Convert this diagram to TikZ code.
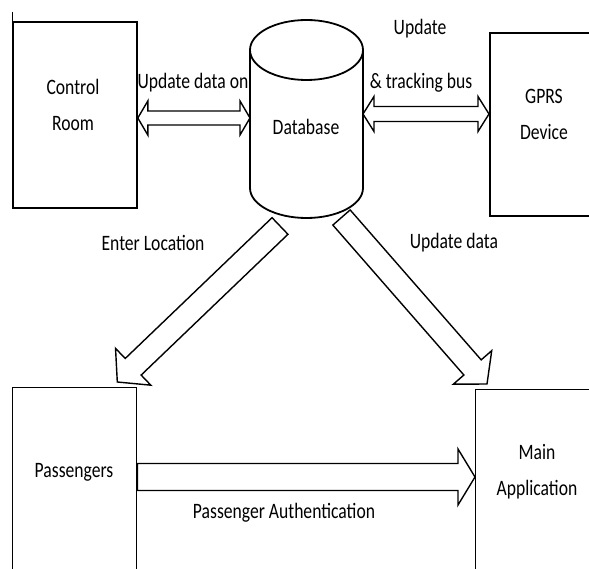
\documentclass[tikz,border=0pt]{standalone}
\usepackage{fontspec}
\setmainfont{Carlito}[FakeStretch=0.8]
\usetikzlibrary{calc}
\tikzset{
  box/.style={draw, line width=1.8pt, anchor=north west, inner sep=0pt},
  thinbox/.style={box, line width=1.3pt},
  lbl/.style={align=center, inner sep=0pt, font=\fontsize{22}{36}\selectfont},
  blk/.style={draw, line width=1.4pt, fill=white},
}
%% hollow block arrows: from, to, half shaft, half head, head length
\newcommand\blockarrow[5]{%
  \draw[blk] ($(#1)!#3!90:(#2)$)
    -- ($($(#2)!#5!(#1)$)!#3!90:(#2)$) -- ($($(#2)!#5!(#1)$)!#4!90:(#2)$)
    -- (#2)
    -- ($($(#2)!#5!(#1)$)!#4!-90:(#2)$) -- ($($(#2)!#5!(#1)$)!#3!-90:(#2)$)
    -- ($(#1)!#3!-90:(#2)$) -- cycle;}
\newcommand\dblarrow[5]{%
  \draw[blk] (#1)
    -- ($($(#1)!#5!(#2)$)!#4!90:(#2)$) -- ($($(#1)!#5!(#2)$)!#3!90:(#2)$)
    -- ($($(#2)!#5!(#1)$)!#3!90:(#2)$) -- ($($(#2)!#5!(#1)$)!#4!90:(#2)$)
    -- (#2)
    -- ($($(#2)!#5!(#1)$)!#4!-90:(#2)$) -- ($($(#2)!#5!(#1)$)!#3!-90:(#2)$)
    -- ($($(#1)!#5!(#2)$)!#3!-90:(#2)$) -- ($($(#1)!#5!(#2)$)!#4!-90:(#2)$)
    -- cycle;}
\begin{document}
\begin{tikzpicture}[x=1pt, y=-1pt]
  \path[use as bounding box, clip] (0,0) rectangle (589,569);
  %% Boxes
  \node[box, minimum width=124pt, minimum height=186pt] (ctrl) at (12,21) {};
  \draw[line width=1pt] (ctrl.north west) -- (12,12);
  \node[box, minimum width=110pt, minimum height=183pt] (gprs) at (489,32) {};
  \node[thinbox, minimum width=124pt, minimum height=220pt] (pass) at (12,387) {};
  \node[thinbox, minimum width=130pt, minimum height=220pt] (app) at (475,389) {};
  \node[lbl] (ctrltxt) at (73,105) {Control\\Room};
  \node[lbl] (gprstxt) at (544,114.5) {GPRS\\Device};
  \node[lbl] (passtxt) at (74,472) {Passengers};
  \node[lbl] (apptxt) at (537,471.5) {Main\\Application};
  %% Database
  \node[lbl] (db) at (306,127) {Database};
  \coordinate (dbW) at (250,118);
  \coordinate (dbE) at (363,114);
  \coordinate (dbSW) at (280,226);
  \coordinate (dbSE) at (341.5,217.5);
  %% Arrows
  \coordinate (ctrlE) at (ctrl.east |- dbW);
  \coordinate (gprsW) at (gprs.west |- dbE);
  \coordinate (passTip) at ($(pass.north east)+(-20,-5)$);
  \coordinate (appTip) at ($(app.north west)+(12,-5)$);
  \dblarrow{ctrlE}{dbW}{7pt}{17pt}{10pt}
  \dblarrow{dbE}{gprsW}{7.5pt}{17.5pt}{11pt}
  \blockarrow{dbSW}{passTip}{11.5pt}{25.5pt}{22pt}
  \blockarrow{dbSE}{appTip}{11.5pt}{25.5pt}{22pt}
  \coordinate (passE) at (pass.east |- 0,477);
  \coordinate (appW) at (app.west |- passE);
  \blockarrow{passE}{appW}{13.5pt}{28pt}{17pt}
  \draw[line width=1.8pt] (250,50) -- (250,188)
    arc[start angle=180, end angle=0, x radius=56.5, y radius=30] -- (363,50);
  \draw[line width=1.8pt] (306.5,50) ellipse[x radius=56.5, y radius=30];
  %% Labels
  \node[lbl] (l1) at (193,83) {Update data on};
  \node[lbl] (l2) at (420,29) {Update};
  \node[lbl] (l3) at (421,83) {\& tracking bus};
  \node[lbl] (l4) at (153,243) {Enter Location};
  \node[lbl] (l5) at (454,243) {Update data};
  \node[lbl] (l6) at (284,513) {Passenger Authentication};
\end{tikzpicture}
\end{document}
